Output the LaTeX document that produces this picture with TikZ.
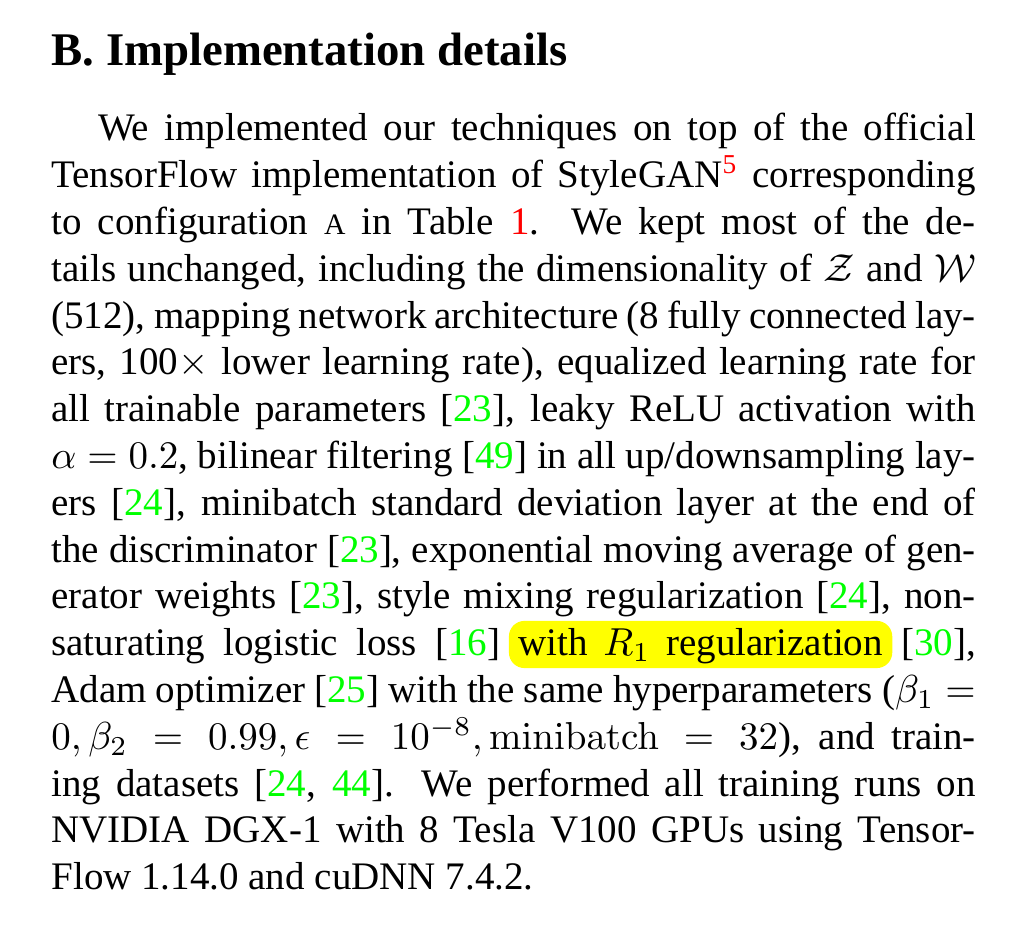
\documentclass[tikz,border=0pt]{standalone}
\usepackage[no-math]{fontspec}
\setmainfont{Liberation Serif}
\usepackage{tikz}

\definecolor{citegreen}{rgb}{0,1,0}
\definecolor{refred}{rgb}{1,0,0}
\definecolor{hlyellow}{rgb}{1,1,0}

\newcommand\refnum[1]{[\textcolor{citegreen}{#1}]}
\newcommand\smallA{{\fontsize{7.6pt}{12pt}\selectfont A}}
\newcommand\hlmark[1]{\hspace*{-2.4pt}\tikz[baseline=(hl.base)]\node[hlbox] (hl) {\makebox[93.5pt][s]{#1}};\hspace*{-2.4pt}}

\tikzset{hlbox/.style={fill=hlyellow, rounded corners=4pt, inner xsep=2.4pt, inner ysep=0pt,
  text height=8.9pt, text depth=3.2pt, text width={}, align=none}}

\begin{document}
\begin{tikzpicture}[x=1pt,y=1pt,
  heading/.style={anchor=base west, inner sep=0pt, font=\fontsize{12pt}{14pt}\selectfont\bfseries},
  para/.style={anchor=north west, inner sep=0pt, text width=237pt, align=justify,
    font=\fontsize{10pt}{12pt}\selectfont}]
  \useasboundingbox (0,0) rectangle (260,-242);
  \node[heading] (title) at (13,-16.7) {B. Implementation details};
  \node[para] (body) at (13,-27.5) {\noindent\strut\hspace*{12pt}We implemented our techniques on top of the official\linebreak
    TensorFlow implementation of StyleGAN\textsuperscript{\textcolor{refred}{5}} corresponding\linebreak
    to configuration \smallA{} in Table \textcolor{refred}{1}.  We kept most of the de-\linebreak
    tails unchanged, including the dimensionality of $\mathcal{Z}$ and $\mathcal{W}$\linebreak
    (512), mapping network architecture (8 fully connected lay-\linebreak
    ers, 100$\times$ lower learning rate), equalized learning rate for\linebreak
    all trainable parameters \refnum{23}, leaky ReLU activation with\linebreak
    $\alpha = 0.2$, bilinear filtering \refnum{49} in all up/downsampling lay-\linebreak
    ers \refnum{24}, minibatch standard deviation layer at the end of\linebreak
    the discriminator \refnum{23}, exponential moving average of gen-\linebreak
    erator weights \refnum{23}, style mixing regularization \refnum{24}, non-\linebreak
    saturating logistic loss \refnum{16} \hlmark{with $R_1$ regularization} \refnum{30},\linebreak
    Adam optimizer \refnum{25} with the same hyperparameters ($\beta_1 =$\linebreak
    $0, \beta_2 = 0.99, \epsilon = 10^{-8}, \mathrm{minibatch} = 32$), and train-\linebreak
    ing datasets [\textcolor{citegreen}{24}, \textcolor{citegreen}{44}].  We performed all training runs on\linebreak
    NVIDIA DGX-1 with 8 Tesla V100 GPUs using Tensor-\linebreak
    Flow 1.14.0 and cuDNN 7.4.2.};
\end{tikzpicture}
\end{document}
